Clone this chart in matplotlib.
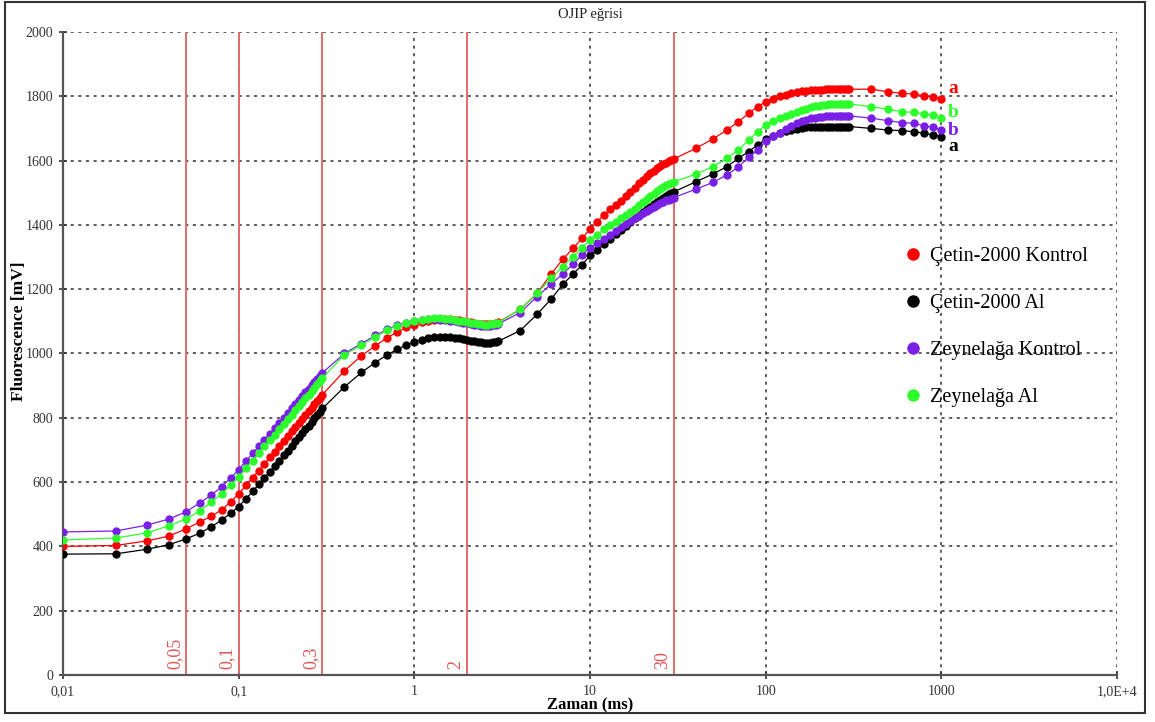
import matplotlib
matplotlib.use("Agg")
import matplotlib.pyplot as plt
from matplotlib.patches import Rectangle
from matplotlib.lines import Line2D
from matplotlib.ticker import FixedLocator, NullLocator

plt.rcParams["font.family"] = ["Liberation Serif", "DejaVu Serif"]

# Ölçüm zamanları (ms)
zaman = [
    0.01, 0.02, 0.03, 0.04, 0.05, 0.06, 0.07, 0.08, 0.09, 0.10,
    0.11, 0.12, 0.13, 0.14, 0.15, 0.16, 0.17, 0.18, 0.19, 0.20,
    0.21, 0.22, 0.23, 0.24, 0.25, 0.26, 0.27, 0.28, 0.29, 0.30,
    0.4, 0.5, 0.6, 0.7, 0.8, 0.9, 1.0, 1.1, 1.2, 1.3, 1.4, 1.5, 1.6, 1.7,
    1.8, 1.9, 2.0, 2.1, 2.2, 2.3, 2.4, 2.5, 2.6, 2.7, 2.8, 2.9, 3.0,
    4, 5, 6, 7, 8, 9, 10, 11, 12, 13, 14, 15, 16, 17, 18, 19, 20,
    21, 22, 23, 24, 25, 26, 27, 28, 29, 30,
    40, 50, 60, 70, 80, 90, 100, 110, 120, 130, 140, 150, 160, 170,
    180, 190, 200, 210, 220, 230, 240, 250, 260, 270, 280, 290, 300,
    400, 500, 600, 700, 800, 900, 1000,
]

cetin_kontrol = [
    400, 403, 417, 432, 454, 476, 494, 514, 538, 563,
    590, 614, 636, 657, 677, 695, 712, 728, 744, 758,
    772, 785, 797, 809, 821, 832, 843, 853, 863, 872,
    946, 993, 1024, 1049, 1067, 1081, 1090, 1097, 1102, 1105, 1107, 1107, 1106, 1105,
    1103, 1101, 1099, 1097, 1095, 1093, 1092, 1091, 1091, 1092, 1093, 1095, 1097,
    1137, 1187, 1247, 1293, 1327, 1358, 1387, 1410, 1431, 1448, 1462, 1474, 1489, 1502, 1516, 1529, 1541,
    1551, 1561, 1569, 1577, 1583, 1589, 1594, 1598, 1602, 1605,
    1638, 1667, 1695, 1721, 1747, 1768, 1783, 1793, 1800, 1805, 1809, 1812, 1815, 1817,
    1819, 1820, 1821, 1821, 1822, 1822, 1822, 1822, 1822, 1822, 1822, 1822, 1822,
    1822, 1814, 1809, 1807, 1801, 1799, 1793,
]

cetin_al = [
    376, 377, 391, 405, 423, 441, 461, 482, 503, 524,
    548, 571, 593, 613, 632, 650, 667, 683, 698, 713,
    727, 740, 752, 764, 776, 787, 798, 809, 819, 829,
    896, 941, 972, 996, 1013, 1026, 1036, 1043, 1048, 1051, 1052, 1052, 1051, 1049,
    1047, 1045, 1042, 1040, 1038, 1036, 1035, 1034, 1034, 1034, 1035, 1036, 1038,
    1071, 1122, 1169, 1215, 1247, 1275, 1305, 1322, 1340, 1356, 1371, 1385, 1398, 1409, 1420, 1430, 1440,
    1449, 1457, 1465, 1472, 1478, 1484, 1490, 1495, 1499, 1503,
    1534, 1558, 1581, 1607, 1628, 1649, 1666, 1677, 1685, 1691, 1695, 1698, 1701, 1703,
    1704, 1705, 1706, 1706, 1706, 1706, 1706, 1706, 1706, 1706, 1706, 1706, 1706,
    1700, 1695, 1693, 1690, 1685, 1680, 1674,
]

zeynelaga_kontrol = [
    445, 448, 466, 485, 507, 535, 560, 585, 613, 638,
    665, 689, 711, 731, 750, 768, 785, 800, 815, 829,
    842, 855, 867, 879, 890, 901, 911, 921, 931, 940,
    1000, 1031, 1056, 1075, 1088, 1096, 1101, 1104, 1106, 1106, 1105, 1104, 1102, 1100,
    1098, 1096, 1094, 1092, 1090, 1088, 1087, 1086, 1086, 1087, 1088, 1090, 1092,
    1127, 1177, 1216, 1247, 1278, 1306, 1328, 1343, 1357, 1369, 1380, 1392, 1402, 1411, 1420, 1429, 1437,
    1444, 1451, 1457, 1462, 1467, 1472, 1476, 1479, 1482, 1485,
    1511, 1532, 1555, 1581, 1610, 1633, 1661, 1675, 1686, 1697, 1707, 1716, 1722, 1727,
    1731, 1734, 1736, 1737, 1738, 1739, 1739, 1739, 1739, 1739, 1739, 1739, 1739,
    1732, 1724, 1718, 1716, 1708, 1703, 1695,
]

zeynelaga_al = [
    420, 426, 442, 464, 485, 510, 538, 563, 591, 616,
    643, 667, 690, 711, 730, 748, 765, 781, 796, 810,
    824, 837, 849, 861, 872, 883, 894, 904, 914, 924,
    996, 1026, 1052, 1073, 1086, 1095, 1101, 1105, 1108, 1109, 1109, 1108, 1106, 1104,
    1102, 1100, 1098, 1096, 1094, 1092, 1091, 1090, 1090, 1091, 1092, 1094, 1096,
    1137, 1187, 1234, 1270, 1301, 1329, 1353, 1370, 1386, 1399, 1410, 1420, 1431, 1441, 1451, 1462, 1472,
    1481, 1489, 1497, 1505, 1512, 1518, 1523, 1527, 1531, 1534,
    1558, 1581, 1607, 1633, 1664, 1690, 1711, 1723, 1732, 1740, 1746, 1752, 1757, 1762,
    1766, 1769, 1771, 1773, 1774, 1775, 1776, 1776, 1776, 1776, 1776, 1776, 1776,
    1768, 1759, 1752, 1750, 1745, 1742, 1732,
]

seriler = [
    ("Çetin-2000 Kontrol", cetin_kontrol, "#ff0000"),
    ("Çetin-2000 Al", cetin_al, "#000000"),
    ("Zeynelağa Kontrol", zeynelaga_kontrol, "#7a1fe6"),
    ("Zeynelağa Al", zeynelaga_al, "#2cff2c"),
]

# O-J-I-P işaret çizgileri
isaret_zaman = [0.05, 0.1, 0.3, 2, 30]
isaret_etiket = ["0,05", "0,1", "0,3", "2", "30"]

# Sağ uçtaki harfler (seri sırası ile)
harfler = ["a", "a", "b", "b"]

x_ticks = [0.01, 0.1, 1, 10, 100, 1000, 10000]
x_tick_labels = ["0,01", "0,1", "1", "10", "100", "1000", "1,0E+4"]
y_ticks = list(range(0, 2001, 200))

fig = plt.figure(figsize=(11.55, 7.22), dpi=100)
ax = fig.add_axes([63 / 1155, 47 / 722, 1054 / 1155, 643 / 722])

ax.set_xscale("log")
ax.set_xlim(0.01, 10000)
ax.set_ylim(0, 2000)

# Grid (noktalı)
ax.grid(True, which="major", color="#333333", linestyle=(0, (2, 3)), linewidth=1.1)
ax.set_axisbelow(True)

for t, et in zip(isaret_zaman, isaret_etiket):
    ax.axvline(t, color="#e06a6a", linewidth=1.4, zorder=1.5)
    ax.annotate(et, xy=(t, 0), xytext=(-2, 4), textcoords="offset points",
                rotation=90, ha="right", va="bottom", color="#e05555", fontsize=13)

for ad, deger, renk in seriler:
    ax.plot(zaman, deger, color=renk, linewidth=0.9, marker="o", markersize=6,
            markeredgewidth=0, label=ad, zorder=3)

# harf etiketleri
harf_ofset = {"#ff0000": 7, "#000000": -7, "#7a1fe6": 0, "#2cff2c": 4}
for (ad, deger, renk), h in zip(seriler, harfler):
    ax.annotate(h, xy=(zaman[-1], deger[-1]), xytext=(5, harf_ofset[renk]),
                textcoords="offset points", color=renk, fontsize=14,
                fontweight="bold", ha="left", va="center")

ax.xaxis.set_major_locator(FixedLocator(x_ticks))
ax.xaxis.set_minor_locator(NullLocator())
ax.set_xticklabels(x_tick_labels)
ax.set_yticks(y_ticks)
ax.tick_params(axis="both", which="major", direction="inout", length=6, width=1.2,
               color="#333333", labelsize=10, labelcolor="#333333", pad=4)

for s in ["top", "right"]:
    ax.spines[s].set_visible(False)
for s in ["left", "bottom"]:
    ax.spines[s].set_color("#555555")
    ax.spines[s].set_linewidth(1.6)

ax.set_title("OJIP eğrisi", fontsize=10.5, pad=10, color="#222222")
ax.set_xlabel("Zaman (ms)", fontsize=12, fontweight="bold", labelpad=0)
ax.set_ylabel("Fluorescence [mV]", fontsize=12.5, fontweight="bold")
ax.yaxis.set_label_coords(-36 / 1054, 0.535)

tutamak = [Line2D([], [], linestyle="none", marker="o", markersize=9,
                  markeredgewidth=0, color=renk) for _, _, renk in seriler]
ax.legend(tutamak, [ad for ad, _, _ in seriler], loc="upper left",
          bbox_to_anchor=(885 / 1155, 1 - 229 / 722), bbox_transform=fig.transFigure,
          frameon=False, fontsize=14.5, labelspacing=1.38, handletextpad=0.35,
          handlelength=1.0)

fig.patches.append(Rectangle((5 / 1155, 1 - 713 / 722), 1140 / 1155, 711 / 722,
                             transform=fig.transFigure, fill=False,
                             edgecolor="#333333", linewidth=1.5))

fig.savefig("out.png", dpi=100)
